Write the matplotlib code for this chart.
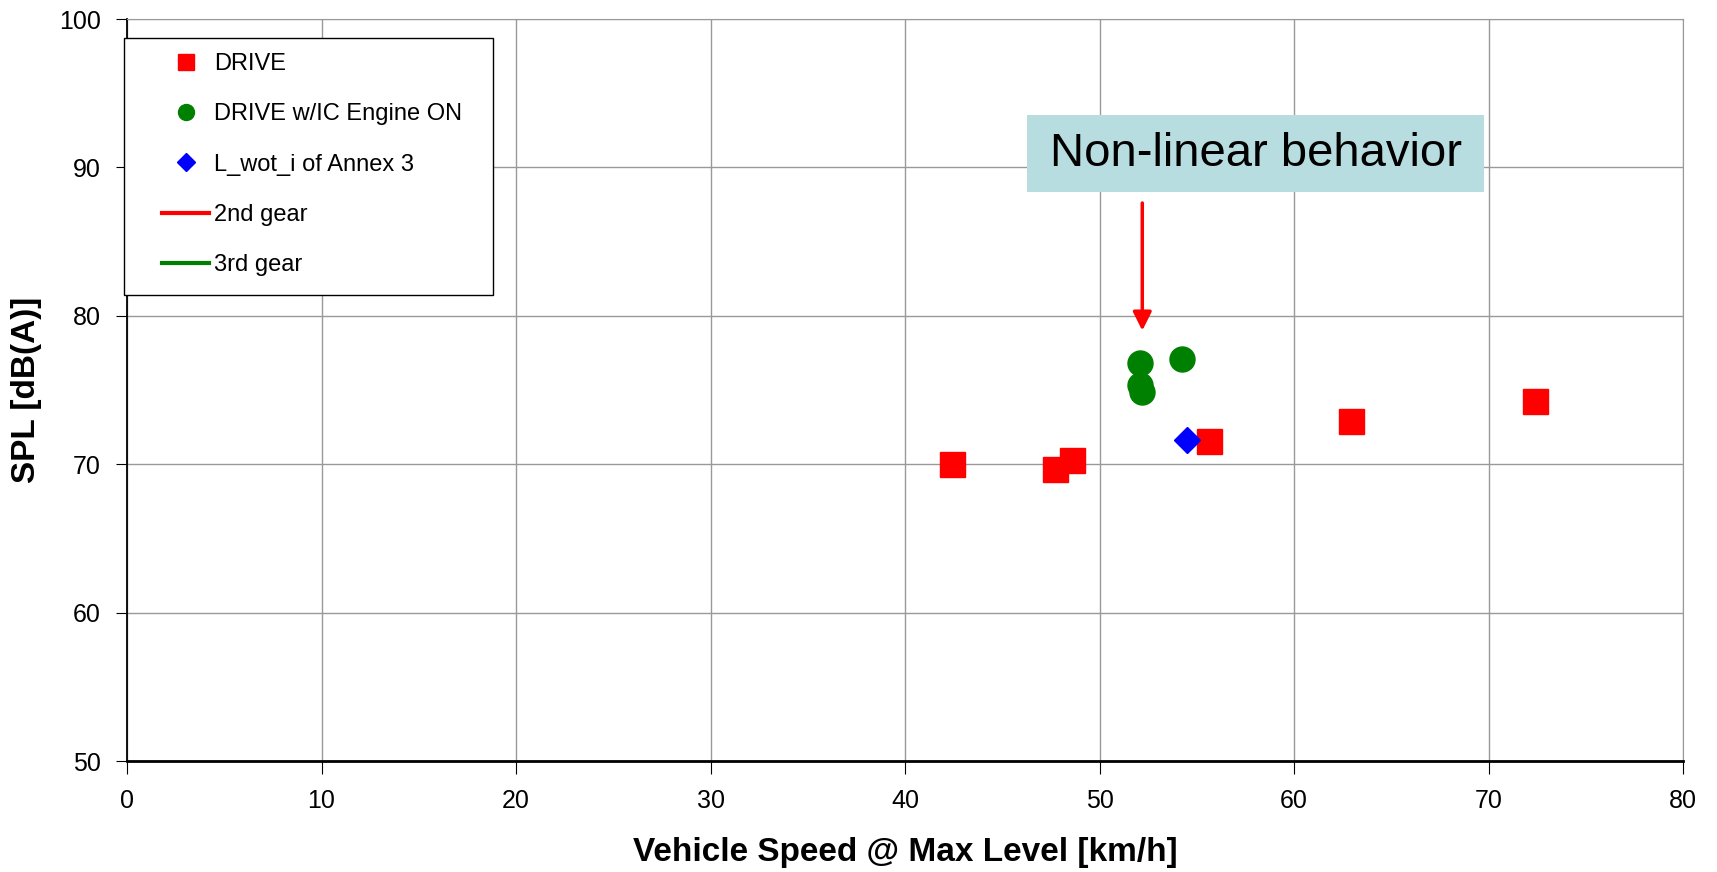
import matplotlib
matplotlib.use('Agg')
import matplotlib.pyplot as plt
from matplotlib.lines import Line2D
from matplotlib.patches import Rectangle

plt.rcParams['font.family'] = ['Liberation Sans', 'DejaVu Sans']

# data
drive_speed = [42.4, 47.7, 48.6, 55.65, 62.95, 72.4]
drive_spl = [70.0, 69.7, 70.3, 71.55, 72.9, 74.25]

ice_speed = [52.1, 52.08, 52.17, 54.23]
ice_spl = [76.85, 75.35, 74.85, 77.1]

lwot_speed = [54.5]
lwot_spl = [71.6]

x_ticks = [0, 10, 20, 30, 40, 50, 60, 70, 80]
y_ticks = [50, 60, 70, 80, 90, 100]

W, H = 1717, 872
fig = plt.figure(figsize=(W / 100, H / 100), dpi=100)
ax = fig.add_axes([127 / W, 1 - 761 / H, (1683 - 127) / W, (761 - 19) / H])

ax.plot(drive_speed, drive_spl, ls='none', marker='s', ms=18, color='#ff0000', mec='#ff0000', zorder=3)
ax.plot(ice_speed, ice_spl, ls='none', marker='o', ms=18, color='#008000', mec='#008000', zorder=3)
ax.plot(lwot_speed, lwot_spl, ls='none', marker='D', ms=13.5, color='#0000ff', mec='#0000ff', zorder=4)

ax.set_xlim(0, 80)
ax.set_ylim(50, 100)
ax.set_xticks(x_ticks)
ax.set_yticks(y_ticks)
ax.grid(True, color='#999999', lw=1)
ax.set_axisbelow(True)
ax.tick_params(axis='x', direction='out', length=9, pad=11, labelsize=18, color='black')
ax.tick_params(axis='y', direction='out', length=8, pad=11, labelsize=18, color='black')
ax.spines['top'].set_color('#999999')
ax.spines['right'].set_color('#999999')
ax.spines['bottom'].set_linewidth(2)
ax.spines['left'].set_linewidth(1.3)

fig.text(905 / W, 1 - 852 / H, 'Vehicle Speed @ Max Level [km/h]', ha='center', va='center',
         fontsize=24, fontweight='bold')
fig.text(27 / W, 1 - 390 / H, 'SPL [dB(A)]', ha='center', va='center', rotation=90,
         fontsize=24, fontweight='bold')

# annotation box and arrow
ax.add_patch(Rectangle((0.5784, 0.7668), 0.8721 - 0.5784, 0.8706 - 0.7668, transform=ax.transAxes,
                       facecolor='#b7dde1', edgecolor='none', zorder=5))
ax.text(0.7253, 0.8187, 'Non-linear behavior', transform=ax.transAxes, ha='center', va='center',
        fontsize=34, zorder=6)
ax.annotate('', xy=(52.2, 79.0), xytext=(52.2, 87.6),
            arrowprops=dict(arrowstyle='-|>', color='#ff0000', lw=2.5, mutation_scale=28,
                            shrinkA=0, shrinkB=0), zorder=6)

# legend
handles = [
    Line2D([], [], ls='none', marker='s', ms=11, color='#ff0000'),
    Line2D([], [], ls='none', marker='o', ms=11.5, color='#008000'),
    Line2D([], [], ls='none', marker='D', ms=9, color='#0000ff'),
    Line2D([], [], color='#ff0000', lw=3),
    Line2D([], [], color='#008000', lw=3),
]
labels = ['DRIVE', 'DRIVE w/IC Engine ON', 'L_wot_i of Annex 3', '2nd gear', '3rd gear']
fig.patches.append(Rectangle((124 / W, 1 - 295 / H), (493 - 124) / W, (295 - 38) / H,
                             transform=fig.transFigure, facecolor='white', edgecolor='black',
                             lw=1, zorder=7))
leg = fig.legend(handles, labels, loc='upper left', bbox_to_anchor=(162 / W, 1 - 53 / H),
                 frameon=False, fontsize=17, handlelength=2.0, handletextpad=0.2,
                 labelspacing=1.2, borderpad=0, borderaxespad=0)
leg.set_zorder(8)

fig.savefig('out.png', dpi=100)
